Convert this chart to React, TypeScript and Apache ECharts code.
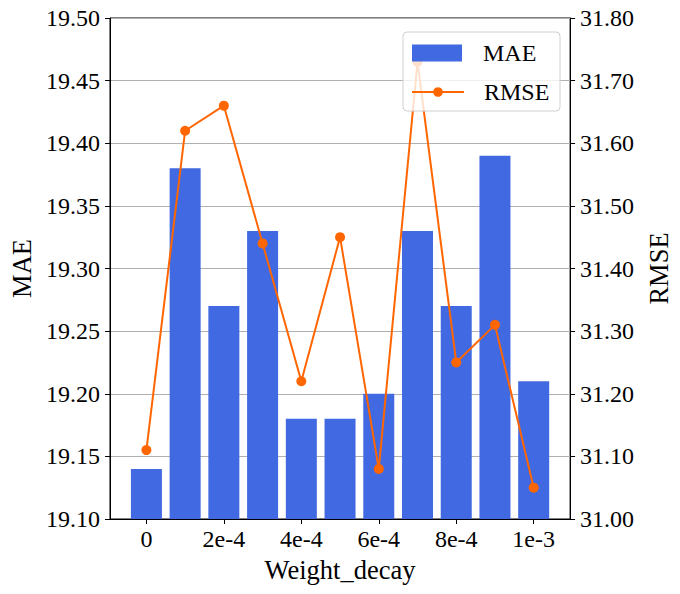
import React, { useEffect, useRef } from "react";
import * as echarts from "echarts";

const categories = ["0", "1e-4", "2e-4", "3e-4", "4e-4", "5e-4", "6e-4", "7e-4", "8e-4", "9e-4", "1e-3"];
const maeValues = [19.14, 19.38, 19.27, 19.33, 19.18, 19.18, 19.2, 19.33, 19.27, 19.39, 19.21];
const rmseValues = [31.11, 31.62, 31.66, 31.44, 31.22, 31.45, 31.08, 31.73, 31.25, 31.31, 31.05];
const tickPositions = [0, 2, 4, 6, 8, 10];

const FONT = "Liberation Serif";
const BLUE = "#4169e1";
const ORANGE = "#ff6600";

export default function App() {
  const ref = useRef<HTMLDivElement>(null);
  useEffect(() => {
    if (!ref.current) return;
    const chart = echarts.init(ref.current, undefined, { renderer: "svg" });
    const axisLineStyle = { show: true, onZero: false, lineStyle: { color: "#000", width: 1 } };
    const tickStyle = { show: true, inside: false, length: 5, lineStyle: { color: "#000", width: 1 } };
    const labelStyle = { fontFamily: FONT, fontSize: 24, color: "#000" };
    chart.setOption({
      animation: false,
      backgroundColor: "#fff",
      textStyle: { fontFamily: FONT },
      grid: {
        left: 108,
        right: 107,
        top: 18,
        bottom: 75,
        show: true,
        borderColor: "#000",
        borderWidth: 1,
        backgroundColor: "transparent",
      },
      legend: [
        {
          data: [{ name: "MAE", icon: "rect" }],
          left: 412,
          top: 41,
          padding: 0,
          itemWidth: 50,
          itemHeight: 17,
          z: 10,
          textStyle: { fontFamily: FONT, fontSize: 24, color: "#000", padding: [0, 0, 0, 16] },
        },
        {
          data: ["RMSE"],
          left: 411,
          top: 80,
          padding: 0,
          itemWidth: 52,
          itemHeight: 12,
          z: 10,
          textStyle: { fontFamily: FONT, fontSize: 24, color: "#000", padding: [0, 0, 0, 15] },
        },
      ],
      graphic: [
        {
          type: "rect",
          z: 5,
          shape: { x: 403, y: 32, width: 157, height: 79, r: 4 },
          style: { fill: "rgba(255,255,255,0.8)", stroke: "#d0d0d0", lineWidth: 1 },
        },
      ],
      xAxis: {
        type: "value",
        min: -0.94,
        max: 10.94,
        name: "Weight_decay",
        nameLocation: "middle",
        nameGap: 37,
        nameTextStyle: { fontFamily: FONT, fontSize: 26.5, color: "#000" },
        splitLine: { show: false },
        axisLine: axisLineStyle,
        axisTick: { ...tickStyle, customValues: tickPositions },
        axisLabel: {
          ...labelStyle,
          customValues: tickPositions,
          margin: 8,
          formatter: (v: number) => categories[Math.round(v)] ?? "",
        },
      },
      yAxis: [
        {
          type: "value",
          min: 19.1,
          max: 19.5,
          interval: 0.05,
          position: "left",
          name: "MAE",
          nameLocation: "middle",
          nameGap: 75,
          nameTextStyle: { fontFamily: FONT, fontSize: 26.5, color: "#000" },
          axisLine: axisLineStyle,
          axisTick: tickStyle,
          axisLabel: { ...labelStyle, margin: 10, formatter: (v: number) => v.toFixed(2) },
          splitLine: { show: true, lineStyle: { color: "#b0b0b0", width: 1 } },
        },
        {
          type: "value",
          min: 31.0,
          max: 31.8,
          interval: 0.1,
          position: "right",
          name: "RMSE",
          nameLocation: "middle",
          nameGap: 72,
          nameRotate: 90,
          nameTextStyle: { fontFamily: FONT, fontSize: 26.5, color: "#000" },
          axisLine: axisLineStyle,
          axisTick: tickStyle,
          axisLabel: { ...labelStyle, margin: 10, formatter: (v: number) => v.toFixed(2) },
          splitLine: { show: false },
        },
      ],
      series: [
        {
          name: "MAE",
          type: "bar",
          yAxisIndex: 0,
          barWidth: 31,
          itemStyle: { color: BLUE },
          data: maeValues.map((v, i) => [i, v]),
          z: 2,
        },
        {
          name: "RMSE",
          type: "line",
          yAxisIndex: 1,
          symbol: "circle",
          symbolSize: 10,
          itemStyle: { color: ORANGE },
          lineStyle: { color: ORANGE, width: 2 },
          data: rmseValues.map((v, i) => [i, v]),
          z: 3,
        },
      ],
    });
    return () => chart.dispose();
  }, []);
  return <div ref={ref} style={{ position: "fixed", left: 0, top: 0, width: 680, height: 594 }} />;
}
